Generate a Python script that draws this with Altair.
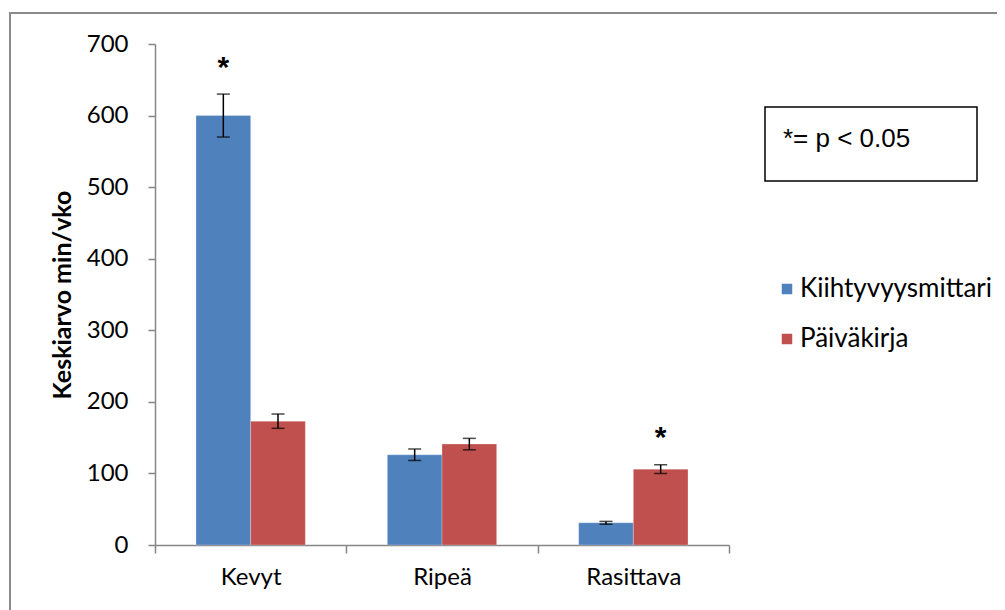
import altair as alt
import pandas as pd

categories = ["Kevyt", "Ripeä", "Rasittava"]
series = ["Kiihtyvyysmittari", "Päiväkirja"]
acc_mean = [600, 126, 31]
acc_err = [30, 8, 2]
diary_mean = [173, 141, 106]
diary_err = [10, 8, 6]
star_cat = ["Kevyt", "Rasittava"]
star_series = ["Kiihtyvyysmittari", "Päiväkirja"]
star_y = [666, 149]
colors = ["#4F81BD", "#C0504D"]

rows = []
for i, c in enumerate(categories):
    rows.append({"cat": c, "series": series[0], "mean": acc_mean[i],
                 "lo": acc_mean[i] - acc_err[i], "hi": acc_mean[i] + acc_err[i]})
    rows.append({"cat": c, "series": series[1], "mean": diary_mean[i],
                 "lo": diary_mean[i] - diary_err[i], "hi": diary_mean[i] + diary_err[i]})
df = pd.DataFrame(rows)
stars = pd.DataFrame({"cat": star_cat, "series": star_series, "y": star_y, "t": ["*", "*"]})

FONT = "Lato"
xenc = alt.X("cat:N", sort=categories, title=None,
             scale=alt.Scale(paddingInner=0, paddingOuter=0),
             axis=alt.Axis(labelAngle=0, tickBand="extent", tickSize=8, labelPadding=12,
                           labelFontSize=24, labelFont=FONT, labelColor="#000000",
                           domainColor="#868686", tickColor="#868686", domainWidth=1.5, tickWidth=1.5))
xoff = alt.XOffset("series:N", sort=series,
                   scale=alt.Scale(paddingInner=0, paddingOuter=0.75))
yscale = alt.Scale(domain=[0, 700], nice=False)

base = alt.Chart(df)
bars = base.mark_bar(stroke="#ffffff", strokeOpacity=0.25, strokeWidth=1).encode(
    x=xenc, xOffset=xoff,
    y=alt.Y("mean:Q", scale=yscale, title="Keskiarvo min/vko",
            axis=alt.Axis(values=[0, 100, 200, 300, 400, 500, 600, 700], grid=False,
                          tickSize=7, labelPadding=20, labelFontSize=24, labelFont=FONT,
                          labelColor="#000000", titleFont=FONT, titleFontSize=25,
                          titleFontWeight="bold", titleColor="#000000", titlePadding=11,
                          domainColor="#868686", tickColor="#868686", domainWidth=1.5, tickWidth=1.5)),
    color=alt.Color("series:N", sort=series,
                    scale=alt.Scale(domain=series, range=colors),
                    legend=alt.Legend(title=None, orient="none", legendX=619, legendY=232,
                                      symbolType="square", symbolSize=110, symbolStrokeWidth=0,
                                      labelFont=FONT, labelFontSize=26, labelColor="#000000",
                                      labelLimit=0, rowPadding=24, labelOffset=0)),
)
rules = base.mark_rule(color="#000000", strokeWidth=1.5).encode(
    x=xenc, xOffset=xoff, y=alt.Y("lo:Q", scale=yscale), y2="hi:Q")
cap_lo = base.mark_tick(color="#000000", thickness=1.5, size=13).encode(
    x=xenc, xOffset=xoff, y=alt.Y("lo:Q", scale=yscale))
cap_hi = base.mark_tick(color="#000000", thickness=1.5, size=13).encode(
    x=xenc, xOffset=xoff, y=alt.Y("hi:Q", scale=yscale))
star = alt.Chart(stars).mark_text(font="Liberation Sans", fontSize=30, fontWeight="bold",
                                  baseline="middle", color="#000000").encode(
    x=xenc, xOffset=xoff, y=alt.Y("y:Q", scale=yscale), text="t:N")

one = pd.DataFrame({"a": [1]})
frame = alt.Chart(one).mark_rect(fillOpacity=0, stroke="#8a8a8a", strokeWidth=2).encode(
    x=alt.value(-145), x2=alt.value(870), y=alt.value(-31), y2=alt.value(620))
pbox = alt.Chart(one).mark_rect(fillOpacity=0, stroke="#000000", strokeWidth=1.5).encode(
    x=alt.value(610), x2=alt.value(822), y=alt.value(63), y2=alt.value(137))
ptext = alt.Chart(pd.DataFrame({"t": ["*= p < 0.05"]})).mark_text(
    font="Liberation Sans", fontSize=26, align="left", baseline="middle", color="#000000").encode(
    x=alt.value(628), y=alt.value(95), text="t:N")

chart = alt.layer(frame, bars, rules, cap_lo, cap_hi, star, pbox, ptext).properties(
    width=574, height=501,
    autosize=alt.AutoSizeParams(type="none"),
    padding={"left": 147, "top": 36, "right": 268, "bottom": 65},
).configure_view(stroke=None)

chart.save("out.html", embed_options={"renderer": "svg", "actions": False})
